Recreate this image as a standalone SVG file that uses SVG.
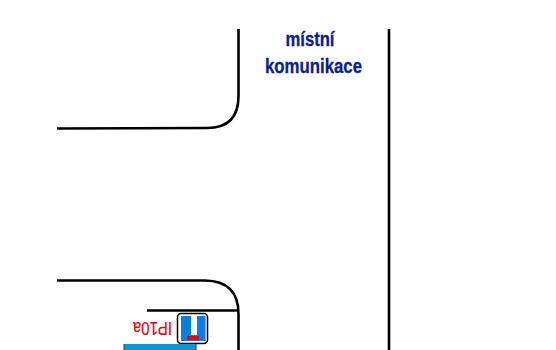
<svg xmlns="http://www.w3.org/2000/svg" width="556" height="350" viewBox="0 0 556 350">
<style>
.road{fill:none;stroke:#000;stroke-width:2.600}
.lbl{font-family:"Liberation Sans",Arial,sans-serif;font-weight:700;font-size:20px;fill:#0a1e8c;stroke:#0a1e8c;stroke-width:.3;text-anchor:middle}
</style>
<rect width="556" height="350" fill="#fff"/>
<g id="connectors">
<path class="road" d="M238.500 29V96Q238.500 128 207 128L57 128.500"/>
<path class="road" d="M389 29V350"/>
<path class="road" d="M57 280.500H205Q238.500 281 238.500 314V350"/>
<path class="road" d="M147 310.500H238.500"/>
</g>
<text class="lbl" x="310" y="46" textLength="49" lengthAdjust="spacingAndGlyphs">místní</text>
<text class="lbl" x="313.500" y="73" textLength="97" lengthAdjust="spacingAndGlyphs">komunikace</text>
<g id="sign">
<rect x="177.500" y="313.500" width="30" height="30" rx="3.500" fill="#fff" stroke="#000" stroke-width="1.500"/>
<rect x="181" y="316" width="10" height="25" fill="#0a7de0"/>
<rect x="197" y="316" width="8.500" height="25" fill="#0a7de0"/>
<rect x="190" y="335" width="8" height="6" fill="#0a7de0"/>
<rect x="187" y="336" width="12" height="4" fill="#e8000d"/>
</g>
<text transform="rotate(180 152.500 327.500)" x="152.500" y="327.500" dominant-baseline="central" text-anchor="middle" font-family="'Liberation Sans',Arial,sans-serif" font-size="18" textLength="39" lengthAdjust="spacingAndGlyphs" fill="#e8000d" stroke="#e8000d" stroke-width=".2">IP10a</text>
<rect x="124" y="344" width="72" height="6" fill="#0a97d8"/>
<path d="M124 344V350M196 344V350" stroke="#1a3a6a" stroke-width="1"/>
</svg>
